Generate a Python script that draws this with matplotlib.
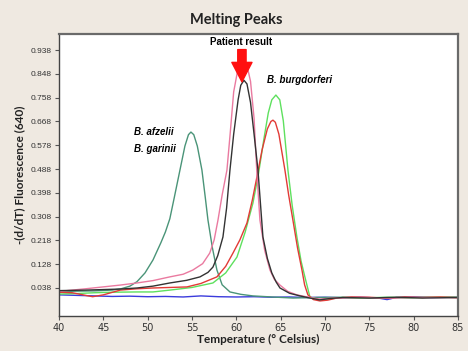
import matplotlib
matplotlib.use("Agg")
import matplotlib.pyplot as plt

# ---------------- data ----------------
x_ticks = [40, 45, 50, 55, 60, 65, 70, 75, 80, 85]
y_ticks = [0.038, 0.128, 0.218, 0.308, 0.398, 0.488, 0.578, 0.668, 0.758, 0.848, 0.938]
y_tick_labels = ["0.038", "0.128", "0.218", "0.308", "0.398", "0.488",
                 "0.578", "0.668", "0.758", "0.848", "0.938"]

teal_t = [40, 42, 44, 46, 47, 48, 48.8, 49.7, 50.6, 51.5, 52.0, 52.5, 53.0, 53.64, 54.2, 54.6,
          54.88, 55.2, 55.6, 56.12, 56.5, 56.8, 57.3, 57.81, 58.4, 59.28, 60.5, 61.87, 64, 66.4,
          69, 72, 75, 78, 81, 85]
teal_v = [0.024, 0.026, 0.027, 0.030, 0.035, 0.045, 0.062, 0.095, 0.144, 0.21, 0.25, 0.30,
          0.38, 0.484, 0.575, 0.618, 0.628, 0.618, 0.575, 0.484, 0.38, 0.295, 0.19, 0.106,
          0.05, 0.023, 0.014, 0.008, 0.004, 0.0, 0.002, 0.003, 0.0, 0.001, 0.003, 0.002]

pink_t = [40, 43, 46.9, 48.8, 50.6, 52.5, 54, 55.1, 56.2, 57.0, 57.5, 57.93, 58.4, 58.94,
          59.3, 59.7, 60.2, 60.7, 61.2, 61.6, 62.0, 62.3, 62.66, 63.2, 63.79, 64.3, 64.92,
          65.8, 66.83, 68, 69.4, 71, 74, 77, 80, 85]
pink_v = [0.025, 0.035, 0.049, 0.057, 0.066, 0.080, 0.090, 0.106, 0.13, 0.170, 0.22, 0.295,
          0.39, 0.484, 0.62, 0.78, 0.87, 0.90, 0.88, 0.82, 0.68, 0.484, 0.295, 0.18, 0.106,
          0.07, 0.049, 0.025, 0.012, 0.004, -0.004, 0.0, 0.002, 0.0, 0.002, 0.002]

black_t = [40, 43, 46.9, 48.8, 50.6, 52.5, 54.4, 55.9, 56.8, 57.36, 57.9, 58.49, 58.9, 59.28,
           59.7, 60.2, 60.5, 60.86, 61.2, 61.6, 62.0, 62.44, 63.0, 63.5, 64.0, 64.5, 64.92,
           66, 67.17, 68.3, 69.4, 70.5, 72, 75, 78, 81, 85]
black_v = [0.028, 0.030, 0.034, 0.038, 0.045, 0.057, 0.067, 0.080, 0.097, 0.117, 0.16, 0.231,
           0.34, 0.484, 0.62, 0.75, 0.805, 0.824, 0.81, 0.74, 0.62, 0.484, 0.231, 0.15, 0.095,
           0.06, 0.038, 0.018, 0.008, 0.0, -0.007, -0.002, 0.002, 0.0, 0.003, 0.0, 0.002]

red_t = [40, 41.5, 43, 43.8, 45, 46.9, 48.8, 50.6, 52.5, 54.43, 56, 57.81, 58.8, 59.62, 60.4,
         61.2, 61.8, 62.32, 62.9, 63.5, 63.9, 64.13, 64.4, 64.8, 65.1, 65.48, 65.9, 66.38,
         66.9, 67.4, 67.7, 68.07, 68.7, 69.43, 70.3, 71.34, 73, 75, 77, 79, 81, 83, 85]
red_v = [0.022, 0.02, 0.01, 0.005, 0.012, 0.030, 0.035, 0.038, 0.040, 0.042, 0.055, 0.080,
         0.12, 0.170, 0.22, 0.284, 0.37, 0.458, 0.56, 0.64, 0.668, 0.673, 0.665, 0.62, 0.56,
         0.484, 0.39, 0.295, 0.19, 0.106, 0.05, 0.012, -0.006, -0.011, -0.008, 0.0, 0.004,
         0.003, -0.001, 0.004, 0.002, 0.004, 0.001]

green_t = [40, 42, 44, 46, 48.8, 50.6, 52.5, 55, 57.36, 58.8, 60.07, 61.0, 61.87, 62.5, 63.1,
           63.6, 64.0, 64.46, 64.9, 65.3, 65.82, 66.3, 66.83, 67.3, 67.73, 68.3, 69.2, 70.21,
           72, 74, 77, 80, 83, 85]
green_v = [0.015, 0.017, 0.02, 0.022, 0.023, 0.023, 0.030, 0.040, 0.057, 0.095, 0.155, 0.25,
           0.359, 0.47, 0.60, 0.70, 0.75, 0.768, 0.75, 0.67, 0.484, 0.35, 0.231, 0.14, 0.080,
           0.004, -0.006, -0.004, 0.002, 0.0, 0.003, 0.001, 0.004, 0.003]

blue_t = [40, 42, 44, 46, 48, 50, 52, 54, 56, 58, 60, 62, 64, 66, 68, 70, 72, 74, 76, 77, 78,
          80, 82, 85]
blue_v = [0.012, 0.010, 0.008, 0.006, 0.007, 0.005, 0.006, 0.004, 0.008, 0.005, 0.004, 0.005,
          0.003, 0.004, 0.002, 0.003, 0.001, 0.003, 0.0, -0.006, 0.002, 0.004, 0.002, 0.003]

# ---------------- figure ----------------
BG = "#efe9e1"
fig = plt.figure(figsize=(4.68, 3.51), dpi=100, facecolor=BG)
ax = fig.add_axes([59 / 468, 35 / 351, 399 / 468, 282 / 351])
ax.set_facecolor("white")

lw = 1.0
ax.plot(blue_t, blue_v, color="#3b3bdc", lw=lw)
ax.plot(teal_t, teal_v, color="#4a9478", lw=lw)
ax.plot(green_t, green_v, color="#5ee05e", lw=lw)
ax.plot(red_t, red_v, color="#e23a36", lw=lw)
ax.plot(pink_t, pink_v, color="#ea7aa0", lw=lw)
ax.plot(black_t, black_v, color="#333333", lw=lw)

ax.set_xlim(40, 85)
ax.set_ylim(-0.068, 0.999)
ax.set_xticks(x_ticks)
ax.set_xticklabels([str(t) for t in x_ticks], fontsize=7, color="#333333",
                   family="DejaVu Sans")
ax.set_yticks(y_ticks)
ax.set_yticklabels(y_tick_labels, fontsize=6, color="#333333", family="Liberation Sans")
ax.tick_params(axis="both", direction="out", length=3, width=0.8, color="#555555", pad=2)

for s in ["left", "bottom"]:
    ax.spines[s].set_color("#444444")
    ax.spines[s].set_linewidth(1.0)
for s in ["top", "right"]:
    ax.spines[s].set_color("#6a6a6a")
    ax.spines[s].set_linewidth(1.6)

ax.set_xlabel("Temperature (° Celsius)", fontsize=8.5, fontweight="bold",
              family="Lato", labelpad=1, color="#222222")
ax.set_ylabel("-(d/dT) Fluorescence (640)", fontsize=8.5, fontweight="bold",
              family="Lato", labelpad=4, color="#222222")

fig.text(236 / 468, 1 - 20 / 351, "Melting Peaks", fontsize=10.5, fontweight="bold",
         family="Lato", ha="center", va="center", color="#222222")

# annotations
ax.text(60.55, 0.968, "Patient result", fontsize=7, fontweight="bold",
        family="Liberation Sans", ha="center", va="center", color="black")
ax.annotate("", xy=(60.63, 0.818), xytext=(60.63, 0.940),
            arrowprops=dict(facecolor="#ff1010", edgecolor="#ff1010", width=6,
                            headwidth=14.5, headlength=14, shrink=0))
ax.text(63.5, 0.825, "B. burgdorferi", fontsize=7, fontweight="bold", style="italic",
        family="Liberation Sans", ha="left", va="center", color="black")
ax.text(48.5, 0.628, "B. afzelii", fontsize=7, fontweight="bold", style="italic",
        family="Liberation Sans", ha="left", va="center", color="black")
ax.text(48.5, 0.564, "B. garinii", fontsize=7, fontweight="bold", style="italic",
        family="Liberation Sans", ha="left", va="center", color="black")

fig.savefig("out.png", dpi=100, facecolor=BG)
